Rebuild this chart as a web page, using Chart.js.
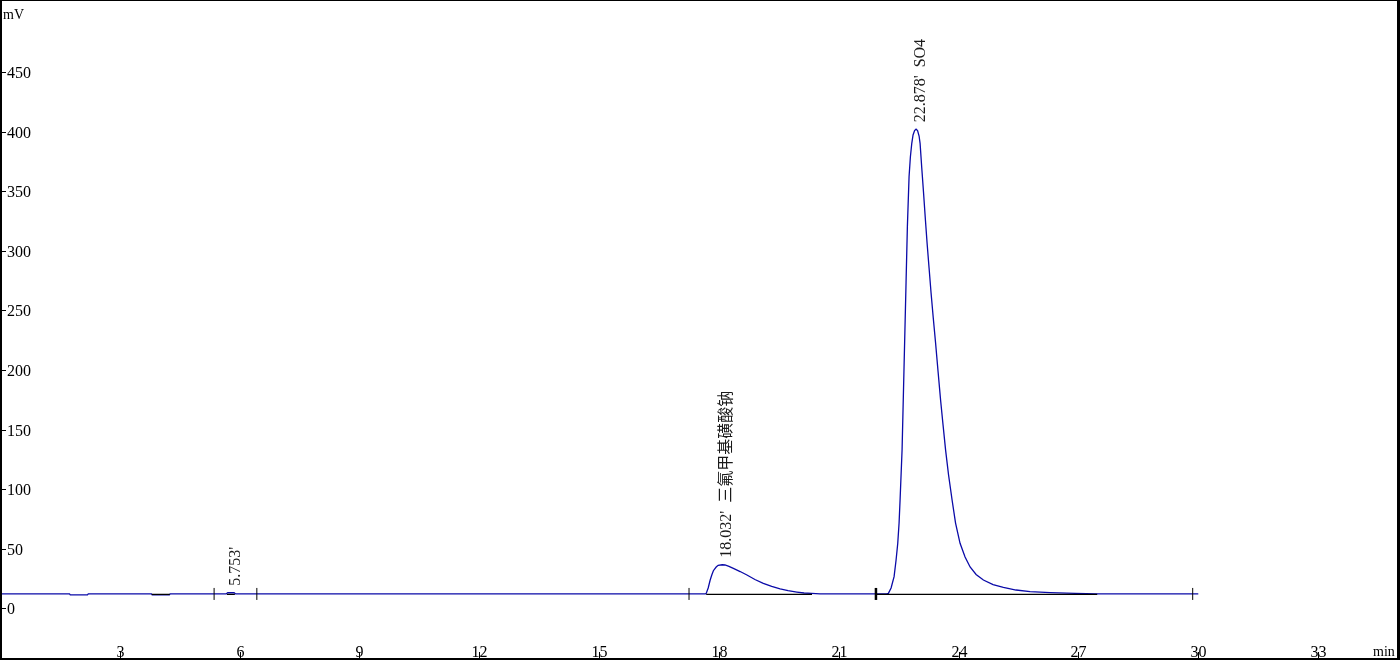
<!DOCTYPE html>
<html>
<head>
<meta charset="utf-8">
<script src="https://cdn.jsdelivr.net/npm/chart.js@4.4.1/dist/chart.umd.min.js"></script>
<style>
    html, body { margin: 0; padding: 0; background: #fff; }
    #wrap { width: 1400px; height: 660px; position: relative; }
</style>
</head>
<body>
<div id="wrap"><canvas id="chromChart"></canvas></div>
<script>
// === DATOS DEL CROMATOGRAMA ===
const times = [0.00, 1.74, 1.76, 2.19, 2.21, 3.79, 3.81, 4.24, 4.26, 5.66, 5.70, 5.86, 5.90,
    17.66, 17.68, 17.73, 17.78, 17.82, 17.86, 17.93, 17.98, 18.08, 18.15, 18.25, 18.36, 18.53, 18.70,
    18.90, 19.11, 19.32, 19.53, 19.73, 19.95, 20.13, 20.32, 20.53,
    22.200, 22.241, 22.309, 22.384, 22.434, 22.476, 22.509, 22.534, 22.559, 22.584, 22.609, 22.634,
    22.659, 22.684, 22.717, 22.759, 22.792, 22.827, 22.859, 22.897, 22.934, 22.972, 23.010, 23.035,
    23.077, 23.122, 23.165, 23.210, 23.260, 23.310, 23.365, 23.423, 23.485, 23.548, 23.610, 23.673,
    23.748, 23.836, 23.923, 24.036, 24.161, 24.287, 24.437, 24.620, 24.862, 25.120, 25.438, 25.789,
    26.290, 26.915, 27.466, 30.00];
const mvValues = [12.2, 12.2, 11.4, 11.4, 12.2, 12.2, 11.4, 11.4, 12.2, 12.2, 13.2, 13.2, 12.2,
    12.2, 12.7, 17.2, 23.9, 28.1, 31.7, 34.8, 36.2, 36.7, 36.5, 35.4, 33.7, 31.0, 28.1,
    24.3, 21.1, 18.5, 16.4, 14.9, 13.8, 13.0, 12.7, 12.2,
    12.2, 12.7, 17.2, 26.7, 40.7, 54.7, 71.7, 91.0, 112.0, 133.0, 168.2, 203.4,
    238.6, 273.9, 320.3, 362.2, 378.7, 390.2, 397.2, 400.9, 402.0, 400.9, 396.3, 390.2,
    369.5, 348.5, 327.5, 306.6, 285.6, 264.6, 243.7, 222.7, 198.8, 174.9, 153.9, 133.0,
    112.0, 91.0, 71.7, 54.7, 43.2, 34.8, 28.5, 23.9, 20.1, 17.8, 15.5, 14.1,
    13.3, 12.7, 12.2, 12.2];

// lineas base de integracion (inicio, fin)
const baseStart = [3.80, 5.68, 17.68, 21.94];
const baseEnd = [4.25, 5.88, 20.33, 27.47];
const baseLevel = 11.9;

// marcas de eventos
const eventTimes = [5.36, 6.43, 17.25, 21.93, 29.86];

// picos
const peakTimes = [5.753, 18.032, 22.878];
const peakApex = [13.2, 36.7, 402];
const peakLabels = ["5.753'", "18.032'  三氟甲基磺酸钠", "22.878'  SO4"];

const yTicks = [0, 50, 100, 150, 200, 250, 300, 350, 400, 450];
const xTicks = [3, 6, 9, 12, 15, 18, 21, 24, 27, 30, 33];

const tracePoints = times.map((t, i) => ({ x: t, y: mvValues[i] }));
const basePoints = [];
baseStart.forEach((s, i) => {
    basePoints.push({ x: s, y: baseLevel }, { x: baseEnd[i], y: baseLevel }, { x: baseEnd[i] + 0.001, y: null });
});
const eventPoints = eventTimes.map(t => ({ x: t, y: 12.2 }));

// === DECORACION (marco, ejes, etiquetas) ===
const decor = {
    id: "decor",
    afterDraw(chart) {
        const ctx = chart.ctx;
        const xs = chart.scales.x, ys = chart.scales.y;
        ctx.save();
        ctx.fillStyle = "#000";
        ctx.strokeStyle = "#000";
        ctx.lineWidth = 1;
        ctx.font = '16px "Liberation Serif"';
        ctx.textAlign = "left";
        ctx.textBaseline = "middle";
        yTicks.forEach(v => {
            const py = Math.round(ys.getPixelForValue(v)) + 0.5;
            ctx.beginPath(); ctx.moveTo(0, py); ctx.lineTo(6, py); ctx.stroke();
            ctx.fillText(String(v), 7, py + 1);
        });
        ctx.textAlign = "center";
        ctx.textBaseline = "alphabetic";
        xTicks.forEach(v => {
            const px = Math.round(xs.getPixelForValue(v)) + 0.5;
            ctx.beginPath(); ctx.moveTo(px, 652); ctx.lineTo(px, 659); ctx.stroke();
            ctx.fillText(String(v), px, 657);
        });
        ctx.font = '14px "Liberation Serif"';
        ctx.textAlign = "left";
        ctx.fillText("mV", 3, 19);
        ctx.fillText("min", 1373, 656);

        // etiquetas de picos
        ctx.fillStyle = "#1a1a1a";
        ctx.font = '16px "Liberation Serif", "Noto Sans CJK SC"';
        peakTimes.forEach((t, i) => {
            const px = xs.getPixelForValue(t);
            const py = ys.getPixelForValue(peakApex[i]);
            ctx.save();
            ctx.translate(px + 6.5, py - 7);
            ctx.rotate(-Math.PI / 2);
            ctx.textAlign = "left";
            ctx.textBaseline = "middle";
            ctx.fillText(peakLabels[i], 0, 0);
            ctx.restore();
        });

        // marco
        ctx.fillStyle = "#000";
        ctx.fillRect(0, 0, 1400, 1);
        ctx.fillRect(0, 0, 2, 660);
        ctx.fillRect(1397, 0, 3, 660);
        ctx.fillRect(0, 658, 1400, 2);
        ctx.restore();
    }
};

const chromChart = new Chart(document.getElementById("chromChart"), {
    type: "line",
    data: {
        datasets: [
            {
                label: "eventos",
                data: eventPoints,
                showLine: false,
                pointStyle: "line",
                rotation: 90,
                pointRadius: 6,
                pointBorderColor: "#000",
                pointBorderWidth: ctx => (ctx.dataIndex === 3 ? 2.5 : 1),
                order: 0
            },
            {
                label: "linea base",
                data: basePoints,
                borderColor: "#000",
                borderWidth: 1.3,
                pointRadius: 0,
                spanGaps: false,
                order: 1
            },
            {
                label: "señal",
                data: tracePoints,
                borderColor: "#0a0aa8",
                borderWidth: 1.3,
                pointRadius: 0,
                tension: 0,
                order: 2
            }
        ]
    },
    options: {
        responsive: true,
        maintainAspectRatio: false,
        animation: false,
        layout: { padding: 0, autoPadding: false },
        plugins: { legend: { display: false }, tooltip: { enabled: false } },
        scales: {
            x: { type: "linear", min: 0, max: 35.05, display: false },
            y: { min: -43.2, max: 510.4, display: false }
        }
    },
    plugins: [decor]
});
</script>
</body>
</html>
